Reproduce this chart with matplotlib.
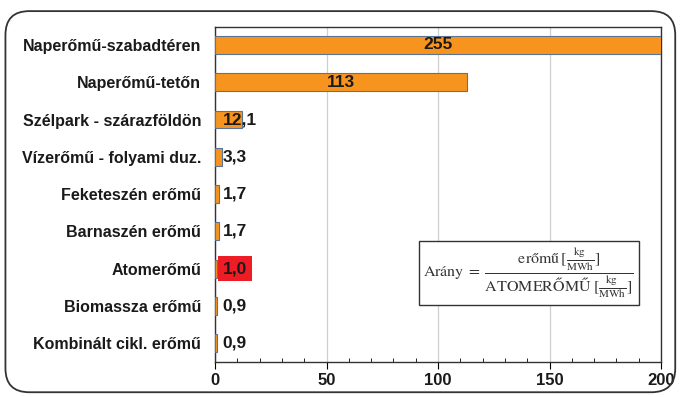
import matplotlib.pyplot as plt
from matplotlib.patches import FancyBboxPatch
from matplotlib.ticker import MultipleLocator

# adatok
categories = [
    "Naperőmű-szabadtéren",
    "Naperőmű-tetőn",
    "Szélpark - szárazföldön",
    "Vízerőmű - folyami duz.",
    "Feketeszén erőmű",
    "Barnaszén erőmű",
    "Atomerőmű",
    "Biomassza erőmű",
    "Kombinált cikl. erőmű",
]
values = [255, 113, 12.1, 3.3, 1.7, 1.7, 1.0, 0.9, 0.9]
value_labels = ["255", "113", "12,1", "3,3", "1,7", "1,7", "1,0", "0,9", "0,9"]
highlight = "Atomerőmű"
xticks = [0, 50, 100, 150, 200]

plt.rcParams["font.family"] = ["Liberation Sans", "DejaVu Sans"]
plt.rcParams["mathtext.fontset"] = "stix"

fig = plt.figure(figsize=(6.8, 3.97), dpi=100)
ax = fig.add_axes([215 / 680, 1 - 362 / 397, (661 - 215) / 680, (362 - 27) / 397])

# lekerekített keret
frame = FancyBboxPatch((0.008, 0.012), 0.985, 0.96,
                       boxstyle="round,pad=0,rounding_size=0.035",
                       transform=fig.transFigure, fill=False,
                       edgecolor="#333333", linewidth=1.3, mutation_aspect=680 / 397)
fig.patches.append(frame)

y = list(range(len(categories)))
ax.barh(y, values, height=0.48, color="#F7941D", edgecolor="#5A7396", linewidth=0.8, zorder=3)

xmax = xticks[-1]
for i, (v, lab) in enumerate(zip(values, value_labels)):
    if v > 50:
        ax.text(min(v, xmax) / 2, i, lab, ha="center", va="center",
                fontsize=12.5, fontweight="bold", color="#1a1a1a", zorder=4)
    elif categories[i] == highlight:
        ax.text(3.5, i, lab, ha="left", va="center", fontsize=12.5,
                fontweight="bold", color="#1a1a1a", zorder=4,
                bbox=dict(boxstyle="square,pad=0.3", facecolor="#EE1C25", edgecolor="none"))
    else:
        ax.text(3.5, i, lab, ha="left", va="center", fontsize=12.5,
                fontweight="bold", color="#1a1a1a", zorder=4)

ax.set_xlim(0, xmax)
ax.set_ylim(len(categories) - 0.5, -0.48)
ax.set_yticks(y)
ax.set_yticklabels(categories, fontsize=11.5, fontweight="bold", color="#1a1a1a")
ax.tick_params(axis="y", length=0, pad=10)
ax.set_xticks(xticks)
ax.xaxis.set_minor_locator(MultipleLocator(10))
ax.tick_params(axis="x", which="major", direction="out", length=5, labelsize=12, pad=3)
ax.tick_params(axis="x", which="minor", direction="in", length=3)
for t in ax.get_xticklabels():
    t.set_fontweight("bold")
    t.set_color("#1a1a1a")
ax.grid(axis="x", color="#cfcfcf", linewidth=0.9, zorder=0)
ax.set_axisbelow(True)
for s in ax.spines.values():
    s.set_color("#333333")
    s.set_linewidth(1.0)

# képlet doboz
formula = (r"$\mathrm{Arány}\;=\;\dfrac{\mathrm{erőmű}\,[\frac{\mathrm{kg}}{\mathrm{MWh}}]}"
           r"{\mathrm{ATOMERŐMŰ}\;[\frac{\mathrm{kg}}{\mathrm{MWh}}]}$")
ax.text(0.94, 0.266, formula, transform=ax.transAxes, ha="right", va="center",
        fontsize=11.5, color="#333333", zorder=5,
        bbox=dict(boxstyle="square,pad=0.3", facecolor="white", edgecolor="#333333", linewidth=1.0))

fig.savefig("out.png", dpi=100)
